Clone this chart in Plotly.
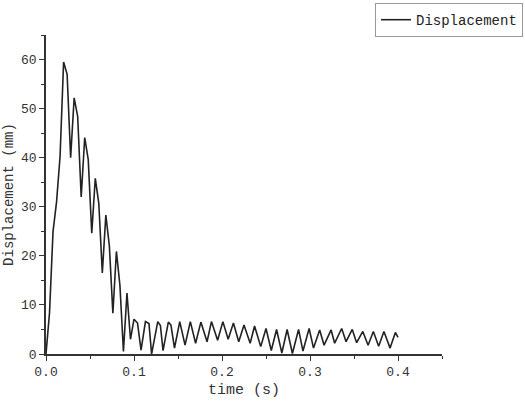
import plotly.graph_objects as go

# time (s) and displacement (mm)
time_s = [0.000, 0.004, 0.008, 0.012, 0.016, 0.020, 0.024, 0.028, 0.032, 0.036,
          0.040, 0.044, 0.048, 0.052, 0.056, 0.060, 0.064, 0.068, 0.072, 0.076,
          0.080, 0.084, 0.088, 0.092, 0.096, 0.100, 0.104, 0.108, 0.113, 0.117,
          0.120, 0.127, 0.130, 0.133, 0.139, 0.142, 0.146, 0.152, 0.158, 0.164,
          0.170, 0.176, 0.183, 0.188, 0.195, 0.201, 0.207, 0.213, 0.219, 0.225,
          0.232, 0.237, 0.244, 0.250, 0.256, 0.262, 0.268, 0.274, 0.280, 0.287,
          0.292, 0.299, 0.304, 0.311, 0.316, 0.324, 0.328, 0.336, 0.341, 0.348,
          0.353, 0.360, 0.366, 0.372, 0.378, 0.384, 0.391, 0.397, 0.400]
displacement_mm = [0.0, 8.4, 25.0, 31.0, 40.3, 59.5, 57.0, 40.0, 52.2, 48.4,
                   32.0, 44.1, 39.6, 24.6, 35.8, 30.7, 16.5, 28.3, 22.0, 8.3,
                   20.9, 14.0, 0.5, 12.4, 3.0, 7.1, 6.3, 0.8, 6.6, 6.2,
                   0.0, 6.6, 5.8, 0.7, 6.5, 5.9, 1.2, 6.6, 1.8, 6.6,
                   2.2, 6.5, 2.5, 6.6, 2.8, 6.6, 3.0, 6.3, 2.5, 5.9,
                   2.2, 5.7, 1.5, 5.2, 0.7, 5.0, 0.2, 5.0, 0.1, 5.0,
                   0.6, 5.2, 1.2, 4.9, 1.8, 4.9, 2.2, 5.2, 2.5, 5.0,
                   2.3, 4.6, 1.8, 4.6, 1.6, 4.6, 1.2, 4.4, 3.4]

x_ticks = [0.0, 0.1, 0.2, 0.3, 0.4]
y_ticks = [0, 10, 20, 30, 40, 50, 60]

FONT = "Liberation Mono"

fig = go.Figure()
fig.add_trace(go.Scatter(
    x=time_s, y=displacement_mm, mode="lines", name="Displacement",
    line=dict(color="#222222", width=1.6),
))

fig.update_layout(
    width=525, height=403,
    margin=dict(l=46, r=83, t=35, b=49, autoexpand=False),
    paper_bgcolor="white", plot_bgcolor="white",
    font=dict(family=FONT, size=13, color="#333333"),
    showlegend=True,
    legend=dict(
        x=1.2045, xref="paper", y=1.1, yref="paper",
        xanchor="right", yanchor="top",
        bordercolor="#999999", borderwidth=1, bgcolor="white",
        font=dict(family=FONT, size=14, color="#222222"),
        itemwidth=30,
    ),
    xaxis=dict(
        range=[0, 0.45], showgrid=False, zeroline=False,
        showline=True, linecolor="#333333", linewidth=1.5,
        ticks="outside", ticklen=5, tickwidth=1.2, tickcolor="#333333",
        tickvals=x_ticks, tickformat=".1f",
        minor=dict(dtick=0.05, ticks="outside", ticklen=3, tickcolor="#333333", showgrid=False),
        title=dict(text="time (s)", font=dict(family=FONT, size=15), standoff=4),
    ),
    yaxis=dict(
        range=[0, 65], showgrid=False, zeroline=False,
        showline=True, linecolor="#333333", linewidth=1.5,
        ticks="outside", ticklen=5, tickwidth=1.2, tickcolor="#333333",
        tickvals=y_ticks,
        minor=dict(dtick=5, ticks="outside", ticklen=3, tickcolor="#333333", showgrid=False),
        title=dict(text="Displacement (mm)", font=dict(family=FONT, size=14), standoff=4),
    ),
)

fig.write_html(
    "out.html",
    config={"displayModeBar": False},
    post_script="document.body.style.margin='0';document.body.style.overflow='hidden';",
)
